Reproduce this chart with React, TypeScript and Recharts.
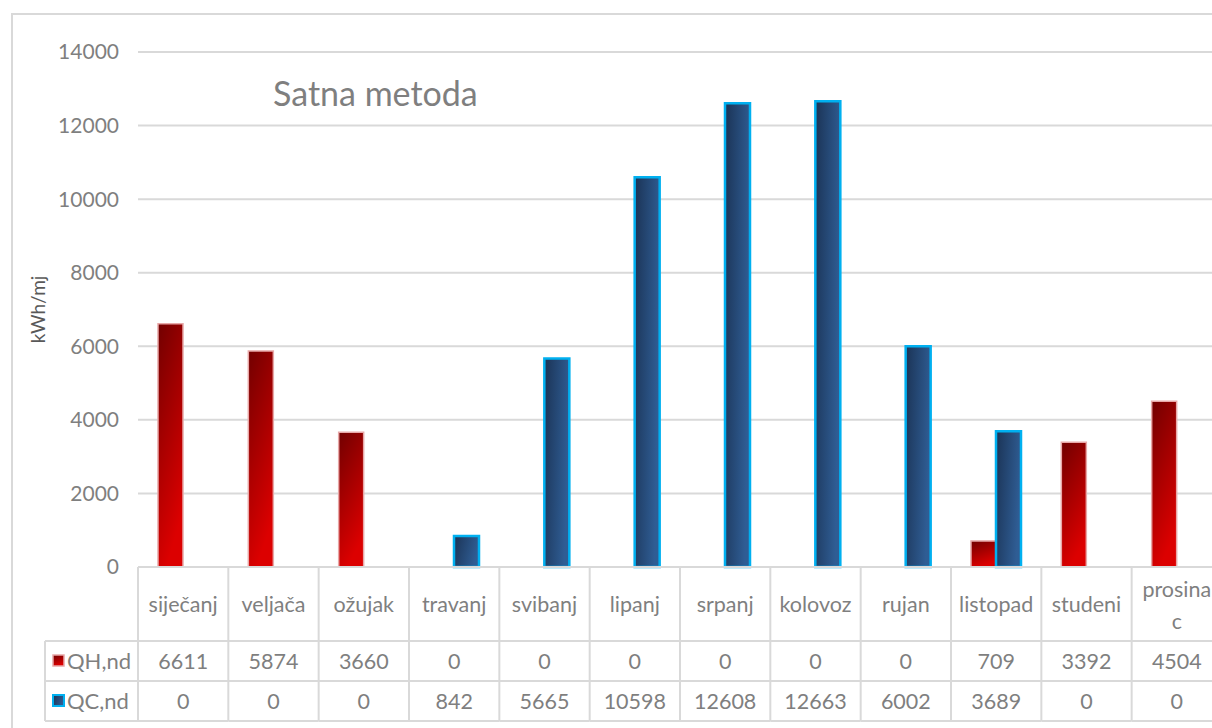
import React from "react";
import { BarChart, Bar, XAxis, YAxis, CartesianGrid, Label } from "recharts";

const months = [
  "siječanj", "veljača", "ožujak", "travanj", "svibanj", "lipanj",
  "srpanj", "kolovoz", "rujan", "listopad", "studeni", "prosinac",
];
const qhValues = [6611, 5874, 3660, 0, 0, 0, 0, 0, 0, 709, 3392, 4504];
const qcValues = [0, 0, 0, 842, 5665, 10598, 12608, 12663, 6002, 3689, 0, 0];
const yTicks = [0, 2000, 4000, 6000, 8000, 10000, 12000, 14000];

const data = months.map((m, i) => ({ name: m, qh: qhValues[i], qc: qcValues[i] }));

// layout
const W = 1240;
const H = 728;
const LEFT = 138;
const RIGHT_MARGIN = 18;
const TOP = 52;
const BOTTOM = 161;
const BAND = (W - LEFT - RIGHT_MARGIN) / months.length;
const AXIS_Y = H - BOTTOM;
const ROW1 = AXIS_Y + 74;
const ROW2 = ROW1 + 40;
const ROW3 = ROW2 + 40;
const LEGEND_X = 45;
const GRID = "#d9d9d9";
const TXT = "#7f7f7f";
const FONT = "Lato, 'Open Sans', sans-serif";

function TableTick(props: any) {
  const { x, index, payload } = props;
  const l = x - BAND / 2;
  const r = x + BAND / 2;
  const name: string = payload.value;
  const i = months.indexOf(name);
  const lines = name === "prosinac" ? ["prosina", "c"] : [name];
  return (
    <g>
      {index === 0 && (
        <g>
          <line x1={l} y1={AXIS_Y} x2={l} y2={ROW3} stroke={GRID} strokeWidth={2} />
          <line x1={LEGEND_X} y1={ROW1} x2={l} y2={ROW1} stroke={GRID} strokeWidth={2} />
          <line x1={LEGEND_X} y1={ROW2} x2={l} y2={ROW2} stroke={GRID} strokeWidth={2} />
          <line x1={LEGEND_X} y1={ROW3} x2={l} y2={ROW3} stroke={GRID} strokeWidth={2} />
          <line x1={LEGEND_X} y1={ROW1} x2={LEGEND_X} y2={ROW3} stroke={GRID} strokeWidth={2} />
          <rect x={53} y={ROW1 + 14} width={11} height={11} fill="url(#qhGrad)" stroke="#e8a8a8" strokeWidth={1.5} />
          <text x={67} y={ROW1 + 28} fontSize={22} fill={TXT} fontFamily={FONT}>QH,nd</text>
          <rect x={53} y={ROW2 + 14} width={11} height={11} fill="url(#qcGrad)" stroke="#00b0f0" strokeWidth={2} />
          <text x={67} y={ROW2 + 28} fontSize={22} fill={TXT} fontFamily={FONT}>QC,nd</text>
        </g>
      )}
      <line x1={r} y1={AXIS_Y} x2={r} y2={ROW3} stroke={GRID} strokeWidth={2} />
      <line x1={l} y1={ROW1} x2={r} y2={ROW1} stroke={GRID} strokeWidth={2} />
      <line x1={l} y1={ROW2} x2={r} y2={ROW2} stroke={GRID} strokeWidth={2} />
      <line x1={l} y1={ROW3} x2={r} y2={ROW3} stroke={GRID} strokeWidth={2} />
      {lines.length === 1 ? (
        <text x={x} y={AXIS_Y + 45} textAnchor="middle" fontSize={21.5} fill={TXT} fontFamily={FONT}>{lines[0]}</text>
      ) : (
        <g>
          <text x={x} y={AXIS_Y + 30} textAnchor="middle" fontSize={21.5} fill={TXT} fontFamily={FONT}>{lines[0]}</text>
          <text x={x} y={AXIS_Y + 62} textAnchor="middle" fontSize={21.5} fill={TXT} fontFamily={FONT}>{lines[1]}</text>
        </g>
      )}
      <text x={x} y={ROW1 + 28} textAnchor="middle" fontSize={21.5} fill={TXT} fontFamily={FONT}>{qhValues[i]}</text>
      <text x={x} y={ROW2 + 28} textAnchor="middle" fontSize={21.5} fill={TXT} fontFamily={FONT}>{qcValues[i]}</text>
    </g>
  );
}

export default function App() {
  return (
    <div style={{ position: "fixed", left: 0, top: 0, width: 1212, height: 728, overflow: "hidden", background: "#fff" }}>
      <div style={{ position: "absolute", left: 11, top: 13, width: 1300, height: 800, border: "2px solid #d9d9d9", boxSizing: "border-box" }} />
      <div style={{ position: "absolute", left: 273, top: 72, fontFamily: FONT, fontSize: 34, color: TXT }}>Satna metoda</div>
      <div style={{ position: "absolute", left: 0, top: 0 }}>
        <BarChart width={W} height={H} data={data} barSize={25} barGap={0}
          margin={{ top: TOP, right: RIGHT_MARGIN, bottom: 0, left: 0 }}>
          <defs>
            <linearGradient id="qhGrad" x1="0" y1="0" x2="0.35" y2="1">
              <stop offset="0%" stopColor="#720000" />
              <stop offset="100%" stopColor="#dc0000" />
            </linearGradient>
            <linearGradient id="qcGrad" x1="0" y1="0" x2="1" y2="0.3">
              <stop offset="0%" stopColor="#1b3355" />
              <stop offset="100%" stopColor="#2f5d94" />
            </linearGradient>
          </defs>
          <CartesianGrid vertical={false} stroke={GRID} strokeWidth={2} />
          <YAxis domain={[0, 14000]} ticks={yTicks} width={LEFT} axisLine={false} tickLine={false}
            tickMargin={13} tick={{ fill: TXT, fontSize: 21, fontFamily: FONT }} interval={0}>
            <Label value="kWh/mj" angle={-90} position="insideLeft" offset={38}
              style={{ fill: "#595959", fontSize: 19, fontFamily: FONT, textAnchor: "middle" }} />
          </YAxis>
          <XAxis dataKey="name" height={BOTTOM} axisLine={{ stroke: GRID, strokeWidth: 2 }} tickLine={false}
            interval={0} tick={<TableTick />} />
          <Bar dataKey="qh" fill="url(#qhGrad)" stroke="#e8a8a8" strokeWidth={1.5} isAnimationActive={false} />
          <Bar dataKey="qc" fill="url(#qcGrad)" stroke="#00b0f0" strokeWidth={2.5} isAnimationActive={false} />
        </BarChart>
      </div>
    </div>
  );
}
